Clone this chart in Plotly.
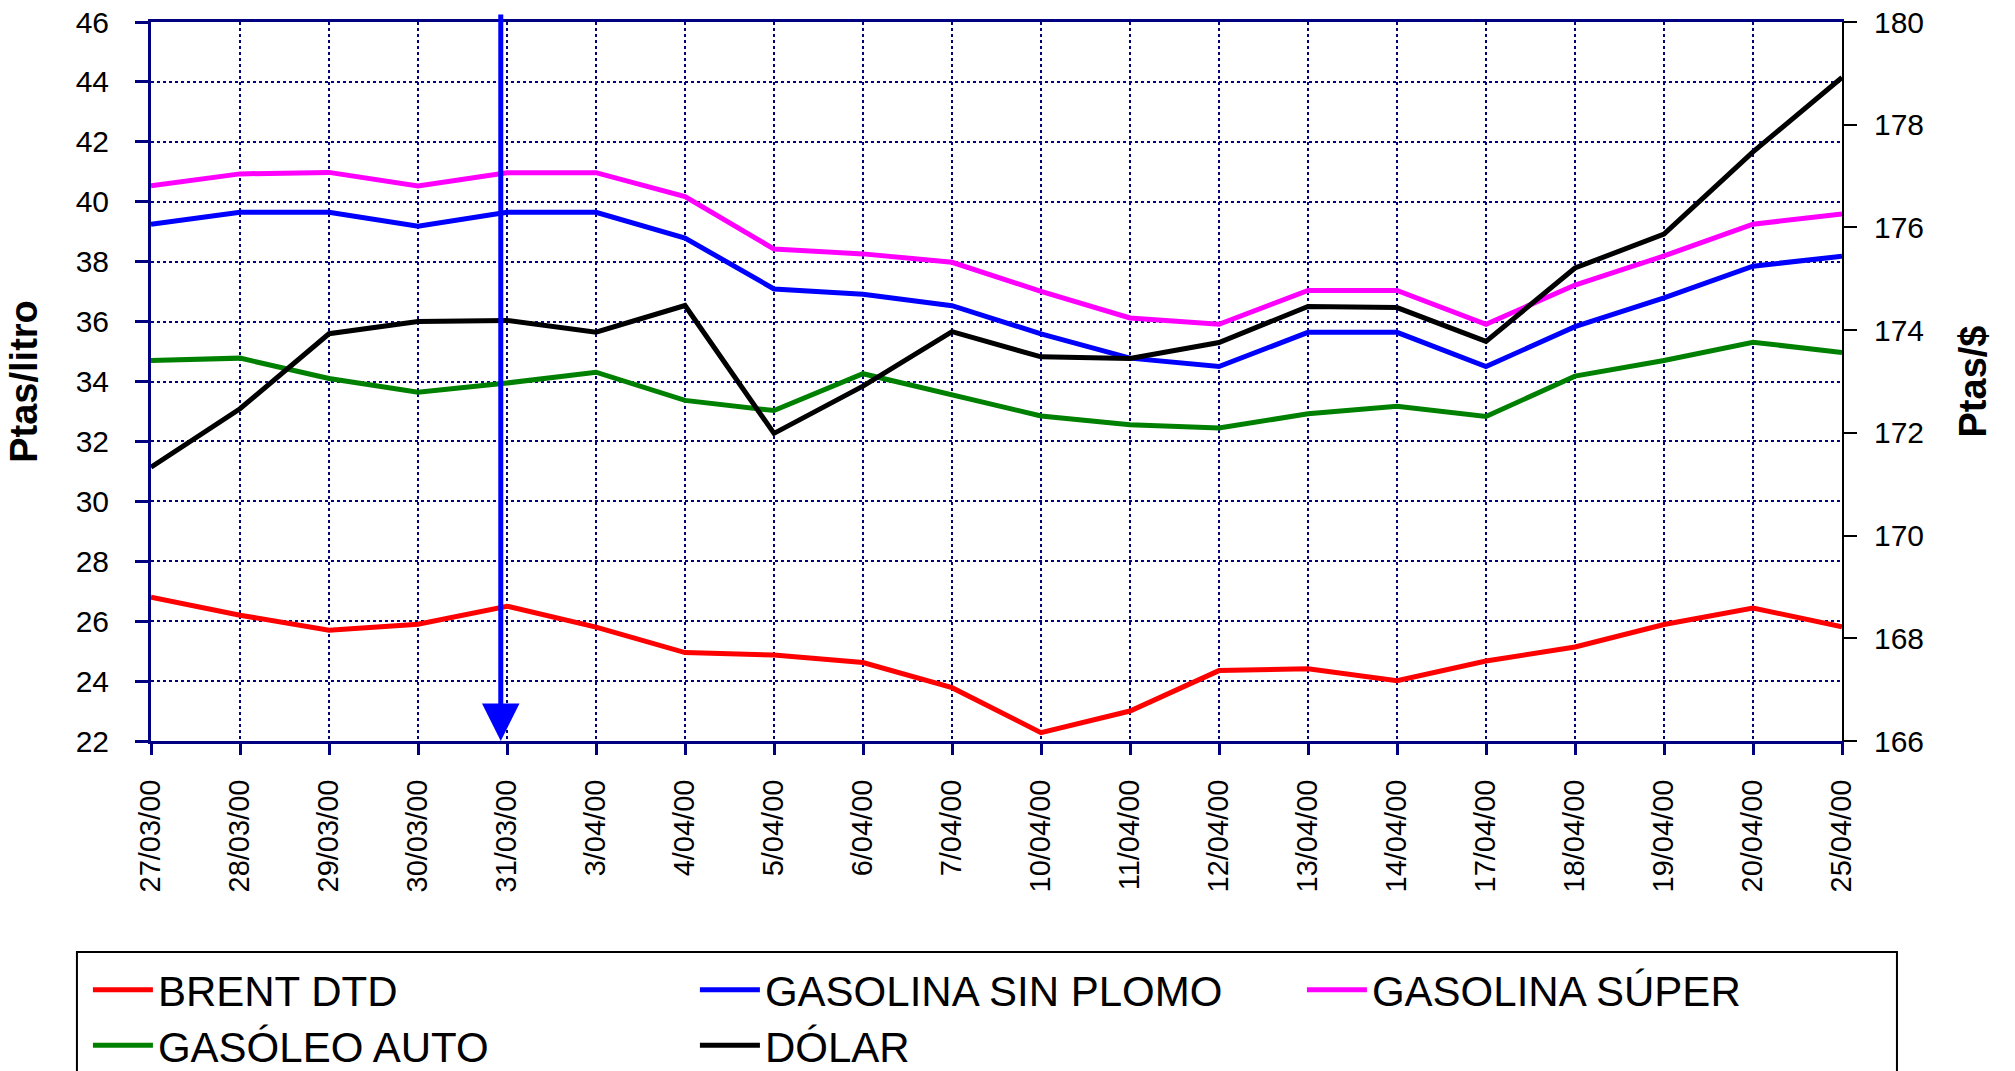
import plotly.graph_objects as go

dates = ['27/03/00', '28/03/00', '29/03/00', '30/03/00', '31/03/00', '3/04/00', '4/04/00',
         '5/04/00', '6/04/00', '7/04/00', '10/04/00', '11/04/00', '12/04/00', '13/04/00',
         '14/04/00', '17/04/00', '18/04/00', '19/04/00', '20/04/00', '25/04/00']

brent = [26.8, 26.2, 25.7, 25.9, 26.5, 25.8, 24.95, 24.87, 24.62, 23.78,
         22.28, 23.0, 24.35, 24.41, 24.01, 24.67, 25.14, 25.89, 26.44, 25.81]
sin_plomo = [39.25, 39.65, 39.65, 39.18, 39.65, 39.65, 38.79, 37.09, 36.91, 36.53,
             35.59, 34.78, 34.5, 35.64, 35.64, 34.5, 35.83, 36.79, 37.85, 38.18]
super_ = [40.53, 40.93, 40.98, 40.53, 40.97, 40.97, 40.17, 38.42, 38.26, 37.98,
          37.01, 36.12, 35.91, 37.04, 37.04, 35.91, 37.22, 38.19, 39.25, 39.59]
gasoleo = [34.7, 34.78, 34.1, 33.64, 33.95, 34.31, 33.37, 33.03, 34.26, 33.56,
           32.85, 32.56, 32.45, 32.92, 33.17, 32.83, 34.18, 34.7, 35.31, 34.97]
dolar = [171.33, 172.47, 173.93, 174.17, 174.19, 173.96, 174.48, 171.99, 172.91, 173.97,
         173.48, 173.45, 173.76, 174.46, 174.44, 173.78, 175.21, 175.87, 177.47, 178.92]

series = [
    ('BRENT DTD', brent, '#ff0000', 'y', 'legend'),
    ('GASOLINA SIN PLOMO', sin_plomo, '#0000ff', 'y', 'legend'),
    ('GASOLINA SÚPER', super_, '#ff00ff', 'y', 'legend'),
    ('GASÓLEO AUTO', gasoleo, '#008000', 'y', 'legend2'),
    ('DÓLAR', dolar, '#000000', 'y2', 'legend2'),
]

left_range = [22, 46]
right_range = [166, 180]
marker_date = '31/03/00'

NAVY = '#000080'
FONT = 'Liberation Sans, Arial, sans-serif'

fig = go.Figure()
for name, vals, color, ax, leg in series:
    fig.add_trace(go.Scatter(x=dates, y=vals, name=name, mode='lines', yaxis=ax, legend=leg,
                             line=dict(color=color, width=5)))

idx = dates.index(marker_date)
fig.add_annotation(x=idx - 0.07, y=left_range[0], ax=idx - 0.07, ay=left_range[1] + 0.3,
                   xref='x', yref='y', axref='x', ayref='y', text='', showarrow=True,
                   arrowhead=2, arrowsize=1.5, arrowwidth=5, arrowcolor='#0000ff')

legend_common = dict(orientation='h', x=-0.0373, xanchor='left', yanchor='middle',
                     font=dict(size=42, family=FONT), entrywidth=532, entrywidthmode='pixels',
                     itemwidth=60, bgcolor='rgba(0,0,0,0)', traceorder='normal')

fig.update_layout(
    width=2015, height=1071,
    margin=dict(l=151, r=173, t=22, b=330, autoexpand=False),
    paper_bgcolor='white', plot_bgcolor='white',
    font=dict(family=FONT, color='black', size=30),
    showlegend=True,
    legend=dict(y=-0.3463, **legend_common),
    legend2=dict(y=-0.4235, **legend_common),
    xaxis=dict(type='category', range=[0, len(dates) - 1], tickangle=-90,
               showline=True, linecolor=NAVY, linewidth=3, mirror=True,
               ticks='outside', ticklen=11, tickwidth=3, tickcolor=NAVY,
               showgrid=True, gridcolor=NAVY, griddash='dot', gridwidth=2,
               tickfont=dict(size=29), ticklabelstandoff=13, zeroline=False,
               ticklabeloverflow='allow'),
    xaxis2=dict(overlaying='x', anchor='y', range=[0, len(dates) - 1], tickmode='linear',
                tick0=0, dtick=1, ticks='inside', ticklen=11, tickwidth=3, tickcolor=NAVY,
                showticklabels=False, showgrid=False, showline=False, zeroline=False),
    yaxis=dict(range=left_range, dtick=2, showline=True, linecolor=NAVY, linewidth=3,
               ticks='outside', ticklen=13, tickwidth=3, tickcolor=NAVY,
               showgrid=True, gridcolor=NAVY, griddash='dot', gridwidth=2, zeroline=False,
               tickfont=dict(size=30), ticklabelstandoff=20, ticklabeloverflow='allow',
               title=dict(text='<b>Ptas/litro</b>', font=dict(size=38), standoff=27)),
    yaxis3=dict(overlaying='y', anchor='x', side='left', range=left_range, dtick=2,
                ticks='inside', ticklen=13, tickwidth=3, tickcolor=NAVY,
                showticklabels=False, showgrid=False, showline=False, zeroline=False),
    yaxis2=dict(overlaying='y', anchor='x', side='right', range=right_range, dtick=2,
                showline=True, linecolor='black', linewidth=2,
                ticks='outside', ticklen=13, tickwidth=2, tickcolor='black',
                showgrid=False, zeroline=False, tickfont=dict(size=30), ticklabelstandoff=11,
                ticklabeloverflow='allow',
                title=dict(text='<b>Ptas/$</b>', font=dict(size=38), standoff=36)),
    yaxis4=dict(overlaying='y', anchor='x', side='right', range=right_range, dtick=2,
                ticks='inside', ticklen=13, tickwidth=2, tickcolor='black',
                showticklabels=False, showgrid=False, showline=False, zeroline=False),
)

fig.add_shape(type='rect', xref='paper', yref='paper',
              x0=-0.0438, x1=1.0325, y0=-0.2935, y1=-0.6,
              line=dict(color='black', width=2), fillcolor='rgba(0,0,0,0)', layer='above')

fig.write_html('out.html', config={'displayModeBar': False},
               post_script="document.body.style.margin='0';document.body.style.overflow='hidden';")
